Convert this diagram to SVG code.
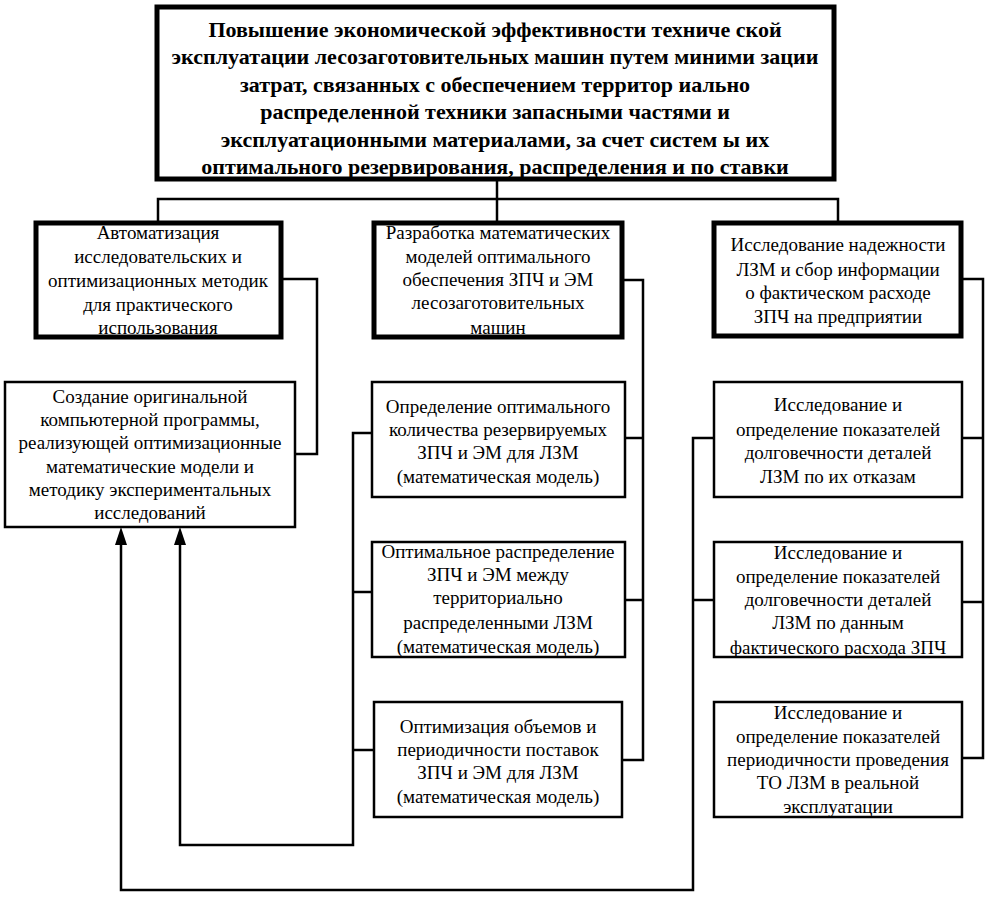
<svg xmlns="http://www.w3.org/2000/svg" width="993" height="916" viewBox="0 0 993 916">
<defs>
<style>
text{font-family:'Liberation Serif','Times New Roman',Times,serif}
.t{font-size:19px;fill:#000;text-anchor:middle}
.tb{font-size:22px;font-weight:bold;fill:#000;text-anchor:middle}
.bx{fill:#fff;stroke:#000;stroke-width:2.5}
.bk{fill:#fff;stroke:#000;stroke-width:5}
.c{fill:none;stroke:#000;stroke-width:2.5}
</style>
</defs>
<rect width="993" height="916" fill="#fff"/>
<g id="connectors">
<path class="c" d="M497,180 V222"/>
<path class="c" d="M158,222 V199 H838 V222"/>
<path class="c" d="M282,279 H317 V454 H295"/>
<path class="c" d="M623,280 H643 V760 H622"/>
<path class="c" d="M625,438 H643"/>
<path class="c" d="M625,600 H643"/>
<path class="c" d="M372,433 H353 V845 H180 V542"/>
<path class="c" d="M372,592 H353"/>
<path class="c" d="M374,750 H353"/>
<path class="c" d="M962,279 H983 V758 H962"/>
<path class="c" d="M962,438 H983"/>
<path class="c" d="M962,602 H983"/>
<path class="c" d="M714,438 H693 V890 H121 V542"/>
<path class="c" d="M714,600 H693"/>
<polygon points="180,527 174,545 186,545" fill="#000"/>
<polygon points="121,527 115,545 127,545" fill="#000"/>
</g>
<g id="main" font-family="Liberation Serif, serif">
<rect class="bk" x="157" y="7" width="677" height="172"/>
<text class="tb" x="495" y="37">Повышение экономической эффективности техниче ской</text>
<text class="tb" x="495" y="64">эксплуатации лесозаготовительных машин путем миними зации</text>
<text class="tb" x="495" y="92">затрат, связанных с обеспечением территор иально</text>
<text class="tb" x="495" y="119">распределенной техники запасными частями и</text>
<text class="tb" x="495" y="147">эксплуатационными материалами, за счет систем ы их</text>
<text class="tb" x="495" y="174">оптимального резервирования, распределения и по ставки</text>
</g>
<g id="automation">
<rect class="bk" x="36" y="223" width="245" height="114"/>
<text class="t" x="158" y="239">Автоматизация</text>
<text class="t" x="158" y="263">исследовательских и</text>
<text class="t" x="158" y="287">оптимизационных методик</text>
<text class="t" x="158" y="311">для практического</text>
<text class="t" x="158" y="334">использования</text>
</g>
<g id="models">
<rect class="bk" x="374" y="223" width="248" height="114"/>
<text class="t" x="498" y="239">Разработка математических</text>
<text class="t" x="498" y="263">моделей оптимального</text>
<text class="t" x="498" y="286">обеспечения ЗПЧ и ЭМ</text>
<text class="t" x="498" y="309">лесозаготовительных</text>
<text class="t" x="498" y="334">машин</text>
</g>
<g id="reliability">
<rect class="bk" x="714" y="223" width="247" height="113"/>
<text class="t" x="838" y="251">Исследование надежности</text>
<text class="t" x="838" y="276">ЛЗМ и сбор информации</text>
<text class="t" x="838" y="299">о фактическом  расходе</text>
<text class="t" x="838" y="323">ЗПЧ на предприятии</text>
</g>
<g id="program">
<rect class="bx" x="5" y="382" width="290" height="145"/>
<text class="t" x="150" y="403">Создание оригинальной</text>
<text class="t" x="150" y="426">компьютерной программы,</text>
<text class="t" x="150" y="449">реализующей оптимизационные</text>
<text class="t" x="150" y="473">математические модели и</text>
<text class="t" x="150" y="496">методику экспериментальных</text>
<text class="t" x="150" y="519">исследований</text>
</g>
<g id="quantity">
<rect class="bx" x="372" y="382" width="253" height="115"/>
<text class="t" x="498" y="413">Определение оптимального</text>
<text class="t" x="498" y="436">количества резервируемых</text>
<text class="t" x="498" y="459">ЗПЧ и ЭМ для ЛЗМ</text>
<text class="t" x="498" y="483">(математическая модель)</text>
</g>
<g id="distribution">
<rect class="bx" x="372" y="542" width="253" height="115"/>
<text class="t" x="498" y="558">Оптимальное распределение</text>
<text class="t" x="498" y="581">ЗПЧ и ЭМ между</text>
<text class="t" x="498" y="604">территориально</text>
<text class="t" x="498" y="629">распределенными ЛЗМ</text>
<text class="t" x="498" y="653">(математическая модель)</text>
</g>
<g id="supply">
<rect class="bx" x="374" y="702" width="248" height="115"/>
<text class="t" x="498" y="733">Оптимизация объемов и</text>
<text class="t" x="498" y="756">периодичности поставок</text>
<text class="t" x="498" y="779">ЗПЧ и ЭМ для ЛЗМ</text>
<text class="t" x="498" y="803">(математическая модель)</text>
</g>
<g id="failures">
<rect class="bx" x="714" y="382" width="248" height="115"/>
<text class="t" x="838" y="411">Исследование и</text>
<text class="t" x="838" y="436">определение показателей</text>
<text class="t" x="838" y="459">долговечности деталей</text>
<text class="t" x="838" y="483">ЛЗМ по их отказам</text>
</g>
<g id="consumption">
<rect class="bx" x="714" y="542" width="248" height="115"/>
<text class="t" x="838" y="559">Исследование и</text>
<text class="t" x="838" y="583">определение показателей</text>
<text class="t" x="838" y="606">долговечности деталей</text>
<text class="t" x="838" y="629">ЛЗМ по данным</text>
<text class="t" x="838" y="654">фактического расхода ЗПЧ</text>
</g>
<g id="maintenance">
<rect class="bx" x="714" y="702" width="248" height="115"/>
<text class="t" x="838" y="719">Исследование и</text>
<text class="t" x="838" y="743">определение показателей</text>
<text class="t" x="838" y="766">периодичности проведения</text>
<text class="t" x="838" y="789">ТО ЛЗМ в реальной</text>
<text class="t" x="838" y="813">эксплуатации</text>
</g>
</svg>
